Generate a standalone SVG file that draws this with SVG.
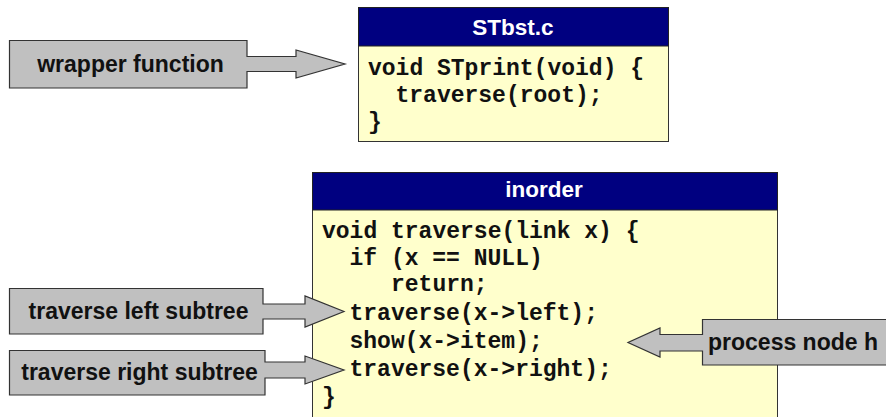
<svg xmlns="http://www.w3.org/2000/svg" width="886" height="417" viewBox="0 0 886 417">
<style>
.hdr{fill:#000080;stroke:#222;stroke-width:1}
.body{fill:#FFFFCC;stroke:#333;stroke-width:1}
.htxt{font-family:"Liberation Sans",Arial,sans-serif;font-weight:bold;font-size:22.5px;fill:#fff;text-anchor:middle}
.code{font-family:"Liberation Mono","Courier New",monospace;font-weight:bold;font-size:23px;fill:#111}
.call{fill:#C0C0C0;stroke:#333;stroke-width:1.2;stroke-linejoin:miter}
.ltxt{font-family:"Liberation Sans",Arial,sans-serif;font-weight:bold;font-size:23px;fill:#111;text-anchor:middle}
</style>
<rect width="886" height="417" fill="#fff"/>
<g id="stbst">
<rect class="body" x="358.5" y="7.5" width="310" height="134"/>
<rect class="hdr" x="358.5" y="7.5" width="310" height="38.5"/>
<text class="htxt" x="513" y="35">STbst.c</text>
<text class="code" x="368" y="75">void STprint(void) {</text>
<text class="code" x="395.5" y="102">traverse(root);</text>
<text class="code" x="368" y="129">}</text>
</g>
<g id="inorder">
<rect class="body" x="312.5" y="172.5" width="465" height="250"/>
<rect class="hdr" x="312.5" y="172.5" width="465" height="37.5"/>
<text class="htxt" x="544" y="197">inorder</text>
<text class="code" x="322" y="238">void traverse(link x) {</text>
<text class="code" x="349.5" y="265">if (x == NULL)</text>
<text class="code" x="391" y="291">return;</text>
<text class="code" x="349.5" y="320">traverse(x-&gt;left);</text>
<text class="code" x="349.5" y="348">show(x-&gt;item);</text>
<text class="code" x="349.5" y="376">traverse(x-&gt;right);</text>
<text class="code" x="322" y="404">}</text>
</g>
<g id="connectors">
<g id="wrapper">
<polygon class="call" points="9.5,40.5 247,40.5 247,56.5 296,56.5 296,50 345,64 296,78 296,71.5 247,71.5 247,88 9.5,88"/>
<text class="ltxt" x="130.5" y="72">wrapper function</text>
</g>
<g id="left">
<polygon class="call" points="9.5,288.5 263,288.5 263,304 305,304 305,296 344,311.5 305,327 305,319 263,319 263,334 9.5,334"/>
<text class="ltxt" x="138.5" y="319">traverse left subtree</text>
</g>
<g id="right">
<polygon class="call" points="9.5,350.5 265,350.5 265,362 305,362 305,356 344,370 305,384 305,378 265,378 265,395 9.5,395"/>
<text class="ltxt" x="139.5" y="380">traverse right subtree</text>
</g>
<g id="process">
<polygon class="call" points="890,319.5 702.5,319.5 702.5,334.5 660,334.5 660,328 628,342.5 660,357 660,351 702.5,351 702.5,365 890,365"/>
<text class="ltxt" x="793" y="350">process node h</text>
</g>
</g>
</svg>
